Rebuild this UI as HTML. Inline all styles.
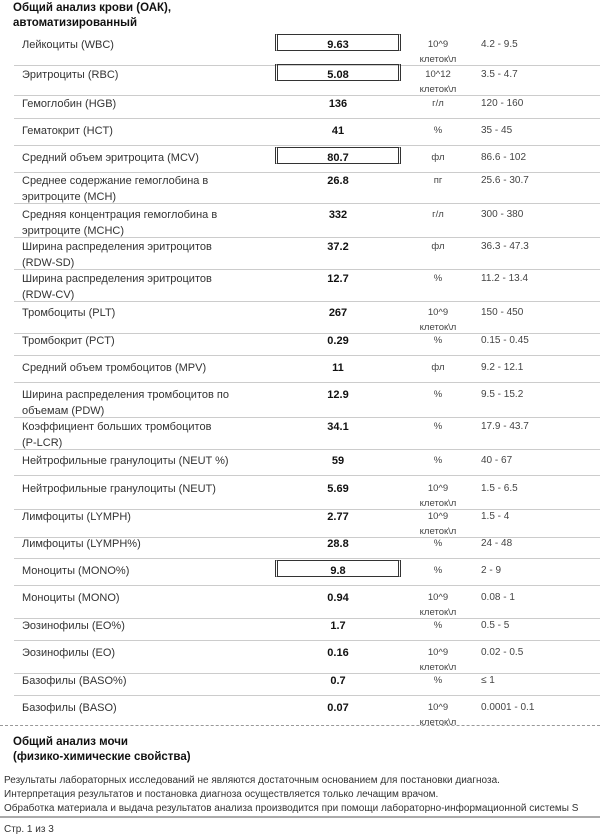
<!DOCTYPE html>
<html><head><meta charset="utf-8">
<style>
body{margin:0;width:600px;height:837px;background:#fff;position:relative;overflow:hidden;font-family:"Liberation Sans",Arial,sans-serif;color:#222}
.a{position:absolute;white-space:nowrap}
.h{font-weight:bold;font-size:11.5px;color:#111}
.n{left:22px;font-size:11px;line-height:16px;color:#333}
.v{left:275px;width:126px;text-align:center;font-weight:bold;font-size:11px;line-height:16px;color:#111}
.u{left:408px;width:60px;text-align:center;font-size:9.5px;line-height:15px;color:#444}
.r{left:481px;font-size:10px;line-height:16px;color:#444}
.box{position:absolute;left:275px;width:120px;height:15px;border-left:3px double #333;border-right:3px double #333;border-top:1.5px solid #333;border-bottom:1.5px solid #333}
.sep{position:absolute;left:14px;right:0;height:1px;background:#ccc}
.f{left:4px;font-size:10px;color:#333}
</style></head><body>
<div class="a h" style="left:13px;top:2px">Общий анализ крови (ОАК),</div>
<div class="a h" style="left:13px;top:17px">автоматизированный</div>
<div id="rows"></div>
<div style="position:absolute;left:0;right:0;top:725px;border-top:1px dashed #999"></div>
<div class="a h" style="left:13px;top:736px">Общий анализ мочи</div>
<div class="a h" style="left:13px;top:751px">(физико-химические свойства)</div>
<div class="a f" style="top:775px">Результаты лабораторных исследований не являются достаточным основанием для постановки диагноза.</div>
<div class="a f" style="top:789px">Интерпретация результатов и постановка диагноза осуществляется только лечащим врачом.</div>
<div class="a f" style="top:803px">Обработка материала и выдача результатов анализа производится при помощи лабораторно-информационной системы S</div>
<div style="position:absolute;left:0;right:0;top:816px;height:2px;background:#aaa"></div>
<div class="a f" style="top:824px">Стр. 1 из 3</div>
<script>
const names=["Лейкоциты (WBC)","Эритроциты (RBC)","Гемоглобин (HGB)","Гематокрит (HCT)","Средний объем эритроцита (MCV)","Среднее содержание гемоглобина в<br>эритроците (MCH)","Средняя концентрация гемоглобина в<br>эритроците (MCHC)","Ширина распределения эритроцитов<br>(RDW-SD)","Ширина распределения эритроцитов<br>(RDW-CV)","Тромбоциты (PLT)","Тромбокрит (PCT)","Средний объем тромбоцитов (MPV)","Ширина распределения тромбоцитов по<br>объемам (PDW)","Коэффициент больших тромбоцитов<br>(P-LCR)","Нейтрофильные гранулоциты (NEUT %)","Нейтрофильные гранулоциты (NEUT)","Лимфоциты (LYMPH)","Лимфоциты (LYMPH%)","Моноциты (MONO%)","Моноциты (MONO)","Эозинофилы (EO%)","Эозинофилы (EO)","Базофилы (BASO%)","Базофилы (BASO)"];
const values=["9.63","5.08","136","41","80.7","26.8","332","37.2","12.7","267","0.29","11","12.9","34.1","59","5.69","2.77","28.8","9.8","0.94","1.7","0.16","0.7","0.07"];
const units=["10^9<br>клеток\\л","10^12<br>клеток\\л","г/л","%","фл","пг","г/л","фл","%","10^9<br>клеток\\л","%","фл","%","%","%","10^9<br>клеток\\л","10^9<br>клеток\\л","%","%","10^9<br>клеток\\л","%","10^9<br>клеток\\л","%","10^9<br>клеток\\л"];
const ranges=["4.2 - 9.5","3.5 - 4.7","120 - 160","35 - 45","86.6 - 102","25.6 - 30.7","300 - 380","36.3 - 47.3","11.2 - 13.4","150 - 450","0.15 - 0.45","9.2 - 12.1","9.5 - 15.2","17.9 - 43.7","40 - 67","1.5 - 6.5","1.5 - 4","24 - 48","2 - 9","0.08 - 1","0.5 - 5","0.02 - 0.5","≤ 1","0.0001 - 0.1"];
const flagged=[true,true,false,false,true,false,false,false,false,false,false,false,false,false,false,false,false,false,true,false,false,false,false,false];
const centers=[45,75,104,131,158,181,215,247,279,313,341,368,395,427,461,489,517,544,571,598,626,653,681,708];
const host=document.getElementById('rows');
function mk(cls,html,top,name){const d=document.createElement('div');d.className='a '+cls;d.innerHTML=html;d.style.top=top+'px';


host.appendChild(d);return d;}
for(let i=0;i<names.length;i++){
 const c=centers[i];const two=names[i].includes('<br>');const twoU=units[i].includes('<br>');
 if(flagged[i]){const b=document.createElement('div');b.className='box';b.style.top=(c-11)+'px';
 
 
 host.appendChild(b);}
 mk('n',names[i],c-8,'test-name');
 mk('v',values[i],c-8,'test-value');
 mk('u',units[i],c-8,'test-unit');
 mk('r',ranges[i],c-8,'reference-range');
 if(i<names.length-1){const s=document.createElement('div');s.className='sep';
 s.style.top=(c+(two?22:(twoU?20:14)))+'px';
 
 
 host.appendChild(s);}
}
</script>
</body></html>
